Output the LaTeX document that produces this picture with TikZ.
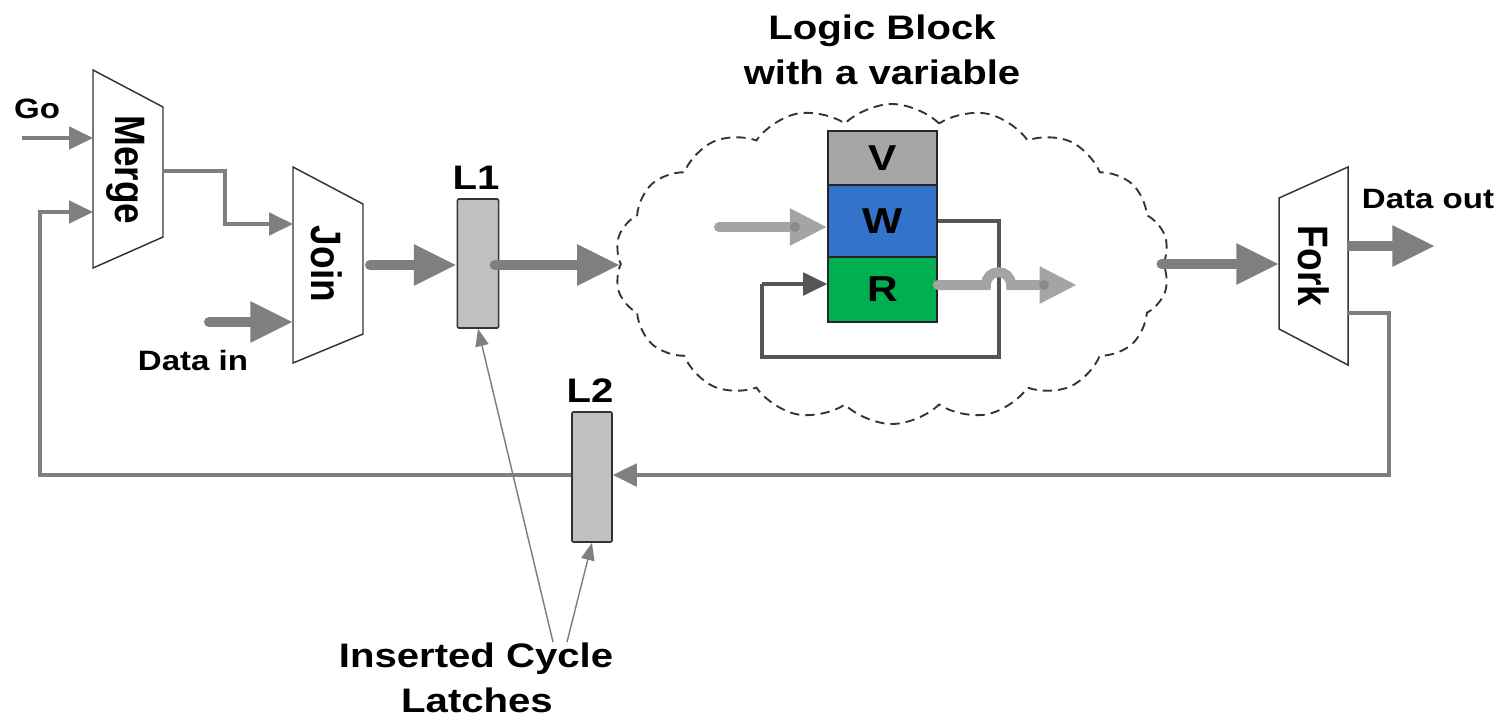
\documentclass[tikz,border=0pt]{standalone}
\usepackage{fontspec}
\setmainfont{Liberation Sans}[FakeStretch=1.18]
\newfontfamily\rotfont{Liberation Sans}
\usetikzlibrary{arrows.meta,shapes.symbols}
\definecolor{arrowgray}{HTML}{7F7F7F}
\definecolor{latchgray}{HTML}{C0C0C0}
\definecolor{vgray}{HTML}{A6A6A6}
\definecolor{wblue}{HTML}{3473CB}
\definecolor{rgreen}{HTML}{00AF50}
\definecolor{lightgr}{HTML}{A4A4A4}
\definecolor{spotgr}{HTML}{8A8A8A}
\definecolor{loopgray}{HTML}{555555}
\definecolor{edgegray}{HTML}{333333}
\begin{document}
\begin{tikzpicture}[x=0.75pt,y=-0.75pt,
  thickarrow/.style={draw=arrowgray, line width=7.5pt, line cap=round, -{Triangle[length=32pt,width=29pt]}},
  thinarrow/.style={draw=arrowgray, line width=2.3pt, -{Triangle[length=18pt,width=17pt]}},
  lightarrow/.style={draw=lightgr, line width=7.5pt, line cap=round, -{Triangle[length=28pt,width=26pt]}},
  spot/.style={fill=spotgr, draw=none},
  looparrow/.style={draw=loopgray, line width=2.3pt, -{Triangle[length=18pt,width=17pt]}},
  loopline/.style={draw=loopgray, line width=2.3pt},
  pointer/.style={draw=arrowgray, line width=1.1pt, -{Triangle[length=13pt,width=10pt]}},
  trap/.style={draw=edgegray, line width=1.1pt, fill=white},
  latch/.style={draw=edgegray, line width=1.2pt, fill=latchgray, rounded corners=1pt, minimum width=31pt, inner sep=0pt},
  cell/.style={draw=black!85, line width=1.2pt, minimum width=81.75pt, inner sep=0pt, font=\fontsize{27}{30}\selectfont\bfseries},
  label/.style={inner sep=0pt, anchor=base, font=\fontsize{21}{25}\selectfont\bfseries},
  biglabel/.style={inner sep=0pt, anchor=base, font=\fontsize{25.5}{30}\selectfont\bfseries},
  rotlabel/.style={inner sep=0pt, rotate=-90, font=\rotfont\fontsize{27.75}{32}\selectfont\bfseries}
]
\useasboundingbox (0,0) rectangle (1505,719);

% cloud
\node[cloud, cloud puffs=18, cloud puff arc=90, aspect=1.75, draw=edgegray, line width=1.4pt,
      dash pattern=on 7pt off 4.5pt, minimum width=416pt, minimum height=240pt] (cloud) at (892,264) {};

% Merge
\draw[trap] (93,70) -- (163,107) -- (163,237) -- (93,268) -- cycle;
\node[rotlabel] (merge) at (126,170) {\scalebox{1}[1.15]{Merge}};
\coordinate (mergeInA) at (93,138);
\coordinate (mergeInB) at (93,212);
\coordinate (mergeOut) at (163,171);
% Join
\draw[trap] (293,167) -- (363,204) -- (363,334) -- (293,363) -- cycle;
\node[rotlabel] (join) at (327,264) {\scalebox{1}[1.15]{Join}};
\coordinate (joinInA) at (293,224);
\coordinate (joinInB) at (293,322);
\coordinate (joinOut) at (370,265);
% Fork
\draw[trap] (1279,198) -- (1348,167) -- (1348,365) -- (1279,329) -- cycle;
\node[rotlabel] (fork) at (1314,266) {\scalebox{1}[1.15]{Fork}};
\coordinate (forkIn) at (1279,264);
\coordinate (forkOutA) at (1348,246);
\coordinate (forkOutB) at (1348,313);

% latches
\node[latch, minimum height=96.75pt] (L1) at (478,263.5) {};
\node[latch, minimum width=30pt, minimum height=97.5pt] (L2) at (592,477) {};

% variable block
\node[cell, fill=vgray, minimum height=40.5pt] (V) at (882.5,158) {V};
\node[cell, fill=wblue, minimum height=54pt] (W) at (882.5,221) {W};
\node[cell, fill=rgreen, minimum height=48.75pt] (R) at (882.5,289.5) {R};

% labels
\node[label] (go) at (37,118) {Go};
\node[label] (datain) at (193,370) {Data in};
\node[label] (dataout) at (1428,208) {Data out};
\node[biglabel] (l1lab) at (476,189) {L1};
\node[biglabel] (l2lab) at (590,402) {L2};
\node[biglabel] (title1) at (882,39) {Logic Block};
\node[biglabel] (title2) at (882,84) {with a variable};
\node[biglabel] (ins1) at (476,667) {Inserted Cycle};
\node[biglabel] (ins2) at (477,712) {Latches};

% coordinates for free ends
\coordinate (goStart) at (22,138);
\coordinate (dataStart) at (209,322);
\coordinate (dataOutEnd) at (1435,246);
\coordinate (wInStart) at (719,227);
\coordinate (rOutEnd) at (1077,285);
\coordinate (p1) at (553,642);
\coordinate (p2) at (567,642);

% thin control connectors
\draw[thinarrow] (goStart) -- (mergeInA);
\draw[thinarrow] (mergeOut) -- (225,171) -- (225,224) -- (joinInA);
\draw[thinarrow] (forkOutB) -- (1389,313) -- (1389,475) -- (L2.east |- 0,475);
\draw[thinarrow] (L2.west |- 0,475) -- (40,475) -- (40,212) -- (mergeInB);

% thick data arrows
\draw[thickarrow] (dataStart) -- (joinInB);
\draw[thickarrow] (joinOut) -- (L1.west |- joinOut);
\draw[thickarrow] ([xshift=-3.5pt]L1.east |- 0,265) -- (cloud.west |- 0,265);
\draw[thickarrow] ([xshift=-2pt]cloud.east |- 0,264) -- (forkIn);
\draw[thickarrow, line cap=butt] (forkOutA) -- (dataOutEnd);

% inside the cloud
\draw[lightarrow] (wInStart) -- (W.west |- wInStart);
\fill[spot] (795,227) circle[radius=3.75pt];
\draw[loopline] (W.east |- 0,221) -- (999,221) -- (999,357) -- (762,357) -- (762,284);
\draw[looparrow] (762,284) -- (R.west |- 0,284);
\draw[lightarrow] (R.east |- 0,285) -- (986,285) .. controls (986,268) and (1011,268) .. (1011,285) -- (rOutEnd);
\fill[spot] (1044,285) circle[radius=3.75pt];

% pointers
\draw[pointer] (p1) -- (L1.south);
\draw[pointer] (p2) -- (L2.south);
\end{tikzpicture}
\end{document}
